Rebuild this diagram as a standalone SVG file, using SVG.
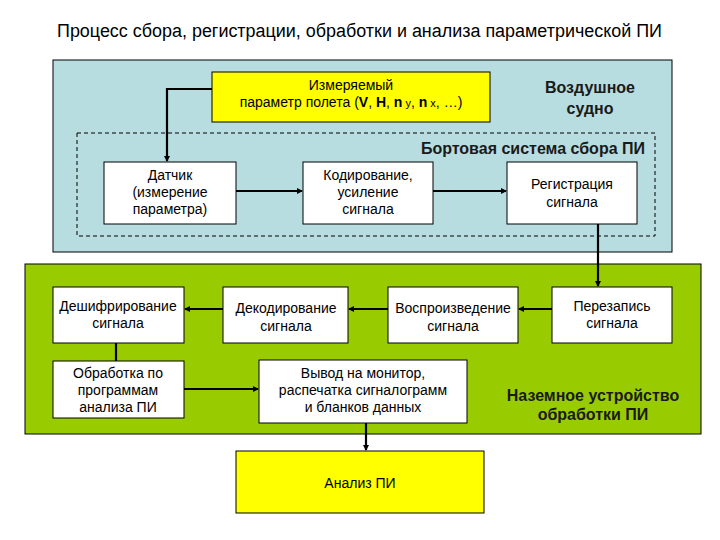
<svg xmlns="http://www.w3.org/2000/svg" width="720" height="540" viewBox="0 0 720 540">
<style>
text{font-family:"Liberation Sans",Arial,sans-serif;fill:#000}
.t{font-size:14px;text-anchor:middle}
.b{font-size:16px;font-weight:bold;text-anchor:middle;fill:#1a1a1a}
.box{fill:#fff;stroke:#000;stroke-width:1}
.yel{fill:#ffff00;stroke:#000;stroke-width:1}
.c{fill:none;stroke:#000;stroke-width:2.2}
</style>
<defs>
<marker id="ah" markerWidth="6" markerHeight="6" refX="5" refY="3" orient="auto" markerUnits="userSpaceOnUse" viewBox="0 0 6 6">
<path d="M0,0 L6,3 L0,6 z" fill="#000"/>
</marker>
</defs>
<rect width="720" height="540" fill="#fff"/>
<text x="359.5" y="37" textLength="605" lengthAdjust="spacingAndGlyphs" style="font-size:18px;text-anchor:middle">Процесс сбора, регистрации, обработки и анализа параметрической ПИ</text>

<g id="aircraft">
<rect x="53" y="60" width="619" height="192" fill="#b7dde0" stroke="#000" stroke-width="1"/>
<text class="b" x="590" y="93">Воздушное</text>
<text class="b" x="590" y="114">судно</text>
</g>
<g id="onboard">
<rect x="77" y="133" width="578" height="103" fill="none" stroke="#000" stroke-width="1" stroke-dasharray="4,3"/>
<text class="b" x="645" y="154" style="text-anchor:end">Бортовая система сбора ПИ</text>
</g>
<g id="ground">
<rect x="25" y="264" width="676" height="170" fill="#99cc00" stroke="#000" stroke-width="1"/>
<text class="b" x="593" y="401">Наземное устройство</text>
<text class="b" x="593" y="420">обработки ПИ</text>
</g>

<g id="param">
<rect class="yel" x="212" y="72" width="278" height="50"/>
<text class="t" x="351" y="90">Измеряемый</text>
<text class="t" x="351" y="107">параметр полета (<tspan font-weight="bold">V</tspan>, <tspan font-weight="bold">H</tspan>, <tspan font-weight="bold">n</tspan><tspan font-size="11"> y</tspan>, <tspan font-weight="bold">n</tspan><tspan font-size="11"> x</tspan>, …)</text>
</g>
<g id="sensor">
<rect class="box" x="104" y="162" width="132" height="62"/>
<text class="t" x="170" y="180">Датчик</text>
<text class="t" x="170" y="197">(измерение</text>
<text class="t" x="170" y="214">параметра)</text>
</g>
<g id="coding">
<rect class="box" x="303" y="162" width="130" height="62"/>
<text class="t" x="368" y="180">Кодирование,</text>
<text class="t" x="368" y="197">усиление</text>
<text class="t" x="368" y="214">сигнала</text>
</g>
<g id="registration">
<rect class="box" x="507" y="162" width="130" height="62"/>
<text class="t" x="572" y="189">Регистрация</text>
<text class="t" x="572" y="207">сигнала</text>
</g>
<g id="decipher">
<rect class="box" x="53" y="287" width="131" height="56"/>
<text class="t" x="118" y="311">Дешифрирование</text>
<text class="t" x="118" y="328">сигнала</text>
</g>
<g id="decoding">
<rect class="box" x="223" y="287" width="125" height="56"/>
<text class="t" x="286" y="313">Декодирование</text>
<text class="t" x="286" y="331">сигнала</text>
</g>
<g id="playback">
<rect class="box" x="388" y="287" width="130" height="56"/>
<text class="t" x="453" y="313">Воспроизведение</text>
<text class="t" x="453" y="331">сигнала</text>
</g>
<g id="rewrite">
<rect class="box" x="552" y="287" width="120" height="56"/>
<text class="t" x="612" y="311">Перезапись</text>
<text class="t" x="612" y="328">сигнала</text>
</g>
<g id="processing">
<rect class="box" x="53" y="361" width="131" height="57"/>
<text class="t" x="118" y="378">Обработка по</text>
<text class="t" x="118" y="395">программам</text>
<text class="t" x="118" y="412">анализа ПИ</text>
</g>
<g id="output">
<rect class="box" x="259" y="360" width="208" height="63"/>
<text class="t" x="363" y="378">Вывод на монитор,</text>
<text class="t" x="363" y="395">распечатка сигналограмм</text>
<text class="t" x="363" y="412">и бланков данных</text>
</g>
<g id="analysis">
<rect class="yel" x="236" y="451" width="248" height="62"/>
<text class="t" x="360" y="488">Анализ ПИ</text>
</g>

<g id="connectors">
<path class="c" d="M212,89 H167 V161" marker-end="url(#ah)"/>
<path class="c" d="M236,191 H302" marker-end="url(#ah)"/>
<path class="c" d="M433,191 H506" marker-end="url(#ah)"/>
<path class="c" d="M598,224 V286" marker-end="url(#ah)"/>
<path class="c" d="M552,309 H519" marker-end="url(#ah)"/>
<path class="c" d="M388,309 H349" marker-end="url(#ah)"/>
<path class="c" d="M223,309 H185" marker-end="url(#ah)"/>
<path class="c" d="M116,343 V361"/>
<path class="c" d="M184,389 H258" marker-end="url(#ah)"/>
<path class="c" d="M366,423 V450" marker-end="url(#ah)"/>
</g>
</svg>
